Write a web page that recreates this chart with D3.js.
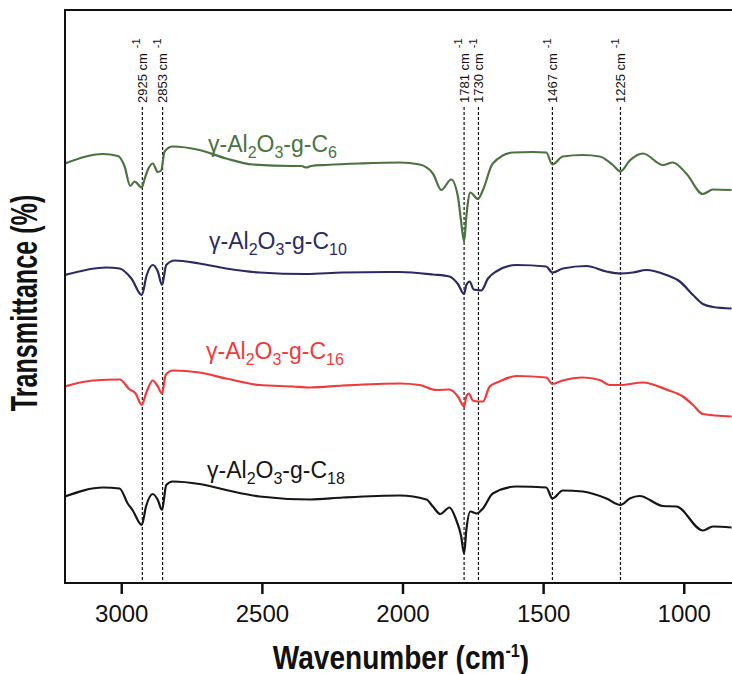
<!DOCTYPE html>
<html>
<head>
<meta charset="utf-8">
<script src="https://cdn.jsdelivr.net/npm/d3@7"></script>
<style>
  body { margin: 0; background: #fff; }
  svg { display: block; }
  text { font-family: "Liberation Sans", Arial, Helvetica, sans-serif; }
</style>
</head>
<body>
<svg id="chart" width="732" height="674"></svg>
<script>
// FTIR spectra of alkyl-grafted gamma-alumina (stacked, offset transmittance, a.u.)
const seriesKeys = ["C6", "C10", "C16", "C18"];
const seriesColors = ["#4b7340", "#2c2a62", "#ef3b3b", "#161616"];

const c6Wavenumber = [3200, 3065, 3012, 2988, 2968, 2953, 2927, 2917, 2905, 2888, 2870, 2858, 2846, 2817, 2722, 2627, 2532, 2390, 2360, 2342, 2325, 2271, 2153, 2010, 1939, 1892, 1862, 1827, 1803, 1792, 1781, 1773, 1759, 1732, 1714, 1679, 1607, 1536, 1489, 1467, 1430, 1359, 1299, 1252, 1225, 1192, 1145, 1074, 1039, 991, 932, 896, 830];
const c6T =          [83.9, 85.8, 85.4, 83.3, 79.4, 80.3, 79.1, 80.8, 82.7, 83.9, 82.2, 82.5, 86.3, 87.3, 86.6, 84.9, 83.7, 83.4, 83.4, 83.1, 83.4, 83.6, 83.9, 84.1, 83.7, 81.9, 78.6, 80.7, 77.3, 72.5, 68.3, 73.3, 78.1, 76.8, 78.6, 83.9, 86.1, 86.2, 86.1, 83.7, 85.3, 85.6, 85.3, 83.6, 82.3, 84.5, 85.9, 83.6, 84.1, 81.9, 77.8, 78.7, 78.6];

const c10Wavenumber = [3200, 3053, 3006, 2964, 2927, 2910, 2888, 2870, 2855, 2840, 2810, 2722, 2627, 2508, 2342, 2212, 2010, 1892, 1833, 1803, 1781, 1773, 1761, 1747, 1735, 1720, 1696, 1667, 1595, 1489, 1467, 1430, 1346, 1275, 1225, 1181, 1133, 1062, 1014, 967, 932, 896, 830];
const c10T =          [61.6, 63.1, 62.9, 60.9, 57.6, 61.5, 63.6, 62.3, 59.6, 63.6, 64.5, 63.9, 62.9, 62.1, 61.8, 62.1, 62.2, 61.7, 61.3, 59.8, 57.8, 59.6, 60.3, 58.7, 58.6, 58.5, 60.9, 62.3, 63.6, 63.3, 62.1, 62.9, 63.4, 62.3, 61.9, 62.1, 62.6, 61.6, 60.3, 57.6, 55.8, 55.2, 54.9];

const c16Wavenumber = [3200, 3101, 3006, 2970, 2949, 2927, 2912, 2888, 2870, 2855, 2842, 2817, 2722, 2627, 2508, 2390, 2330, 2212, 2010, 1939, 1880, 1833, 1803, 1781, 1773, 1764, 1750, 1730, 1714, 1690, 1655, 1595, 1489, 1467, 1430, 1359, 1299, 1264, 1225, 1145, 1062, 1003, 967, 932, 830];
const c16T =          [39.3, 40.5, 40.7, 38.7, 37.9, 35.6, 37.9, 40.5, 39.3, 37.9, 41.6, 42.5, 42.1, 40.9, 39.6, 39.3, 39.1, 39.5, 39.9, 39.6, 38.6, 38.7, 37.3, 35.3, 37.3, 37.9, 36.5, 36.3, 36.3, 39.3, 40.3, 41.4, 41.1, 39.8, 40.5, 41.1, 40.6, 39.6, 39.6, 40.1, 38.7, 37.3, 35.6, 33.8, 33.3];

const c18Wavenumber = [3200, 3065, 3006, 2977, 2959, 2927, 2912, 2888, 2870, 2855, 2840, 2817, 2722, 2627, 2508, 2330, 2212, 2010, 1915, 1892, 1866, 1833, 1809, 1792, 1781, 1773, 1759, 1736, 1714, 1679, 1595, 1489, 1467, 1430, 1359, 1275, 1225, 1192, 1157, 1074, 1026, 932, 896, 830];
const c18T =          [17.3, 19.1, 18.9, 15.9, 14.5, 11.6, 15.3, 17.8, 16.6, 14.6, 19.6, 20.3, 19.8, 18.6, 17.3, 16.7, 17.1, 17.5, 16.7, 15.3, 13.8, 15.1, 12.6, 9.5, 5.9, 10.6, 14.3, 13.9, 14.9, 17.9, 19.3, 19.1, 16.9, 18.5, 18.3, 16.9, 15.6, 16.9, 17.4, 15.4, 15.3, 10.5, 11.3, 11.1];

const peakWavenumbers = [2925, 2853, 1781, 1730, 1467, 1225];
const xTickValues = [3000, 2500, 2000, 1500, 1000];

const series = [
  { key: "C6",  wn: c6Wavenumber,  t: c6T },
  { key: "C10", wn: c10Wavenumber, t: c10T },
  { key: "C16", wn: c16Wavenumber, t: c16T },
  { key: "C18", wn: c18Wavenumber, t: c18T }
];

const svg = d3.select("#chart");
const plot = { left: 65, top: 10, right: 740, bottom: 583 };

const x = d3.scaleLinear().domain([3200, 800]).range([plot.left, plot.right]);
const y = d3.scaleLinear().domain([0, 114.6]).range([plot.bottom, plot.top]);

svg.append("defs").append("clipPath").attr("id", "plotClip")
  .append("rect")
  .attr("x", plot.left).attr("y", plot.top)
  .attr("width", plot.right - plot.left).attr("height", plot.bottom - plot.top);

// peak marker lines
const peaks = svg.append("g").attr("class", "peaks");
peaks.selectAll("line").data(peakWavenumbers).join("line")
  .attr("x1", d => x(d)).attr("x2", d => x(d))
  .attr("y1", 107).attr("y2", plot.bottom)
  .attr("stroke", "#111").attr("stroke-width", 1.2)
  .attr("stroke-dasharray", "3,2");

const peakLabels = peaks.selectAll("text").data(peakWavenumbers).join("text")
  .attr("transform", d => `translate(${x(d)},103) rotate(-90)`)
  .attr("dy", "0.36em")
  .attr("font-size", 13)
  .attr("fill", "#111");
peakLabels.append("tspan").text(d => `${d} cm`);
peakLabels.append("tspan").attr("dx", 5).attr("dy", "-0.6em").attr("font-size", 11).text("-1");

// spectra
const line = d3.line()
  .x(d => x(d[0]))
  .y(d => y(d[1]))
  .curve(d3.curveMonotoneX);

svg.append("g").attr("clip-path", "url(#plotClip)")
  .selectAll("path").data(series).join("path")
  .attr("d", s => line(d3.zip(s.wn, s.t)))
  .attr("fill", "none")
  .attr("stroke", (s, i) => seriesColors[i])
  .attr("stroke-width", 2.2)
  .attr("stroke-linejoin", "round");

// series labels
const labelPos = [
  { x: 208, y: 152 },
  { x: 209, y: 249 },
  { x: 206, y: 359 },
  { x: 207, y: 478 }
];
const labels = svg.append("g").selectAll("text").data(seriesKeys).join("text")
  .attr("x", (d, i) => labelPos[i].x)
  .attr("y", (d, i) => labelPos[i].y)
  .attr("font-size", 23)
  .attr("fill", (d, i) => seriesColors[i]);
labels.each(function (d) {
  const t = d3.select(this);
  const sub = (s) => { t.append("tspan").attr("dy", 6).attr("font-size", 16).text(s); };
  const main = (s) => { t.append("tspan").attr("dy", -6).text(s); };
  t.append("tspan").text("γ-Al");
  sub("2"); main("O"); sub("3"); main("-g-C"); sub(d.slice(1));
});

// frame
const frame = svg.append("g").attr("stroke", "#111").attr("stroke-width", 2).attr("fill", "none");
frame.append("path").attr("d", `M${plot.right},${plot.top}H${plot.left}V${plot.bottom}H${plot.right}`);

// x axis
const xAxis = d3.axisBottom(x).tickValues(xTickValues).tickSize(11).tickSizeOuter(0).tickFormat(d3.format("d"));
const gx = svg.append("g").attr("transform", `translate(0,${plot.bottom})`).call(xAxis);
gx.select(".domain").remove();
gx.selectAll(".tick line").attr("stroke", "#111").attr("stroke-width", 2.5);
gx.selectAll(".tick text")
  .attr("y", 39).attr("dy", 0)
  .attr("fill", "#111")
  .attr("font-size", 24)
  .attr("font-family", "'Liberation Sans', Arial, sans-serif");

// axis titles
const xt = svg.append("text")
  .attr("transform", "translate(401,669) scale(0.85,1)")
  .attr("text-anchor", "middle")
  .attr("font-size", 33).attr("font-weight", "bold").attr("fill", "#111");
xt.append("tspan").text("Wavenumber (cm");
xt.append("tspan").attr("dy", -12).attr("font-size", 19).text("-1");
xt.append("tspan").attr("dy", 12).text(")");

svg.append("text")
  .attr("transform", "translate(37,303) rotate(-90) scale(0.68,1)")
  .attr("text-anchor", "middle")
  .attr("font-size", 37).attr("font-weight", "bold").attr("fill", "#111")
  .text("Transmittance (%)");
</script>
</body>
</html>
